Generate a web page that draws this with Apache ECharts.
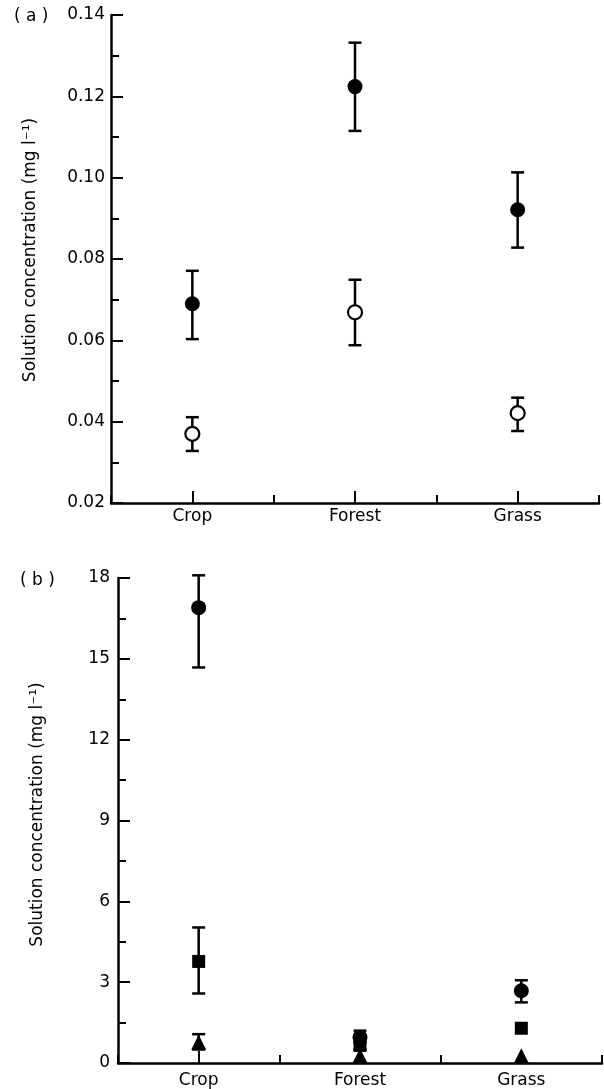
<!DOCTYPE html>
<html>
<head>
<meta charset="utf-8">
<script src="https://cdn.jsdelivr.net/npm/echarts@6/dist/echarts.min.js"></script>
<style>
  html, body { margin: 0; padding: 0; background: #fff; }
  #chart { width: 604px; height: 1089px; }
</style>
</head>
<body>
<div id="chart"></div>
<script>
// categories
var categories = ['Crop', 'Forest', 'Grass'];

// panel (a): filled and open circles, mean with error range
var aFilledMean = [0.069, 0.1224, 0.0921];
var aFilledLow  = [0.0603, 0.1115, 0.0828];
var aFilledHigh = [0.0771, 0.1332, 0.1013];
var aOpenMean = [0.037, 0.0669, 0.0421];
var aOpenLow  = [0.0328, 0.0588, 0.0377];
var aOpenHigh = [0.0411, 0.0749, 0.0459];

// panel (b): circles, squares, triangles (null = bar hidden behind the marker)
var bCircleMean = [16.9, 0.96, 2.68];
var bCircleLow  = [14.68, 0.75, 2.25];
var bCircleHigh = [18.1, 1.2, 3.07];
var bSquareMean = [3.77, 0.65, 1.29];
var bSquareLow  = [2.58, 0.5, null];
var bSquareHigh = [5.03, 0.8, null];
var bTriMean = [0.77, 0.27, 0.27];
var bTriLow  = [0.5, null, null];
var bTriHigh = [1.07, null, null];

// tick labels
var aTicks = { min: 0.02, max: 0.14, step: 0.02 };
var bTicks = { min: 0, max: 18, step: 3 };

var FONT = 'DejaVu Sans';
var LW = 2.5;

function errorBar(params, api) {
  var x = api.value(0);
  var l = api.value(1), h = api.value(2);
  if (isNaN(l) || isNaN(h)) return null;
  var lo = api.coord([x, l]);
  var hi = api.coord([x, h]);
  var hw = 6.5;
  var st = { stroke: '#000', lineWidth: LW };
  return {
    type: 'group',
    children: [
      { type: 'line', shape: { x1: lo[0], y1: lo[1], x2: hi[0], y2: hi[1] }, style: st },
      { type: 'line', shape: { x1: hi[0] - hw, y1: hi[1], x2: hi[0] + hw, y2: hi[1] }, style: st },
      { type: 'line', shape: { x1: lo[0] - hw, y1: lo[1], x2: lo[0] + hw, y2: lo[1] }, style: st }
    ]
  };
}

function rangeData(low, high) {
  return categories.map(function (c, i) {
    return [i, low[i] == null ? '-' : low[i], high[i] == null ? '-' : high[i]];
  });
}

function errSeries(idx, low, high) {
  return {
    type: 'custom', xAxisIndex: idx * 2, yAxisIndex: idx,
    renderItem: errorBar, data: rangeData(low, high), z: 2, silent: true
  };
}

function markSeries(idx, vals, symbol, size, fill) {
  return {
    type: 'scatter', xAxisIndex: idx * 2, yAxisIndex: idx,
    data: vals, symbol: symbol, symbolSize: size, z: 5, silent: true,
    itemStyle: { color: fill, borderColor: '#000', borderWidth: fill === '#fff' ? 2.2 : 0, opacity: 1 }
  };
}

function catAxes(gridIndex, labelMargin) {
  return [
    {
      type: 'category', gridIndex: gridIndex, data: categories, boundaryGap: true,
      axisLine: { show: true, lineStyle: { color: '#000', width: LW } },
      axisTick: { show: true, inside: true, alignWithLabel: false, length: 8, lineStyle: { color: '#000', width: 2 } },
      axisLabel: { color: '#000', fontSize: 17, fontFamily: FONT, margin: labelMargin },
      splitLine: { show: false }
    },
    {
      type: 'category', gridIndex: gridIndex, data: categories, boundaryGap: true, position: 'bottom',
      axisLine: { show: false },
      axisTick: { show: true, inside: true, alignWithLabel: true, length: 12, lineStyle: { color: '#000', width: 2 } },
      axisLabel: { show: false },
      splitLine: { show: false }
    }
  ];
}

function valAxis(gridIndex, t, decimals, labelMargin, shift) {
  return {
    type: 'value', gridIndex: gridIndex, min: t.min, max: t.max, interval: t.step,
    name: 'Solution concentration (mg l\u207B\u00B9)',
    nameLocation: 'middle', nameGap: 72,
    nameTextStyle: { color: '#000', fontSize: 17, fontFamily: FONT, padding: [0, 0, 0, shift] },
    axisLine: { show: true, lineStyle: { color: '#000', width: LW } },
    axisTick: { show: true, inside: true, length: 12, lineStyle: { color: '#000', width: 2 } },
    minorTick: { show: true, splitNumber: 2, length: 8, lineStyle: { color: '#000', width: 2 } },
    axisLabel: {
      color: '#000', fontSize: 17, fontFamily: FONT, margin: labelMargin,
      formatter: function (v) { return v.toFixed(decimals); }
    },
    splitLine: { show: false },
    minorSplitLine: { show: false }
  };
}

var chart = echarts.init(document.getElementById('chart'), null, { renderer: 'canvas' });

var titleStyle = { fontSize: 17, fontWeight: 'normal', color: '#000', fontFamily: FONT };

chart.setOption({
  backgroundColor: '#fff',
  animation: false,
  title: [
    { text: '( a )', left: 9, top: 3, textStyle: titleStyle },
    { text: '( b )', left: 15, top: 567, textStyle: titleStyle }
  ],
  grid: [
    { left: 111, top: 15, width: 488, height: 488 },
    { left: 118, top: 578, width: 484, height: 486 }
  ],
  xAxis: catAxes(0, 5).concat(catAxes(1, 9)),
  yAxis: [valAxis(0, aTicks, 2, 6, 18), valAxis(1, bTicks, 0, 8, 12)],
  series: [
    errSeries(0, aFilledLow, aFilledHigh),
    errSeries(0, aOpenLow, aOpenHigh),
    markSeries(0, aFilledMean, 'circle', 15, '#000'),
    markSeries(0, aOpenMean, 'circle', 14, '#fff'),
    errSeries(1, bCircleLow, bCircleHigh),
    errSeries(1, bSquareLow, bSquareHigh),
    errSeries(1, bTriLow, bTriHigh),
    markSeries(1, bCircleMean, 'circle', 15, '#000'),
    markSeries(1, bSquareMean, 'rect', 13, '#000'),
    markSeries(1, bTriMean, 'triangle', 15, '#000')
  ]
});
</script>
</body>
</html>
